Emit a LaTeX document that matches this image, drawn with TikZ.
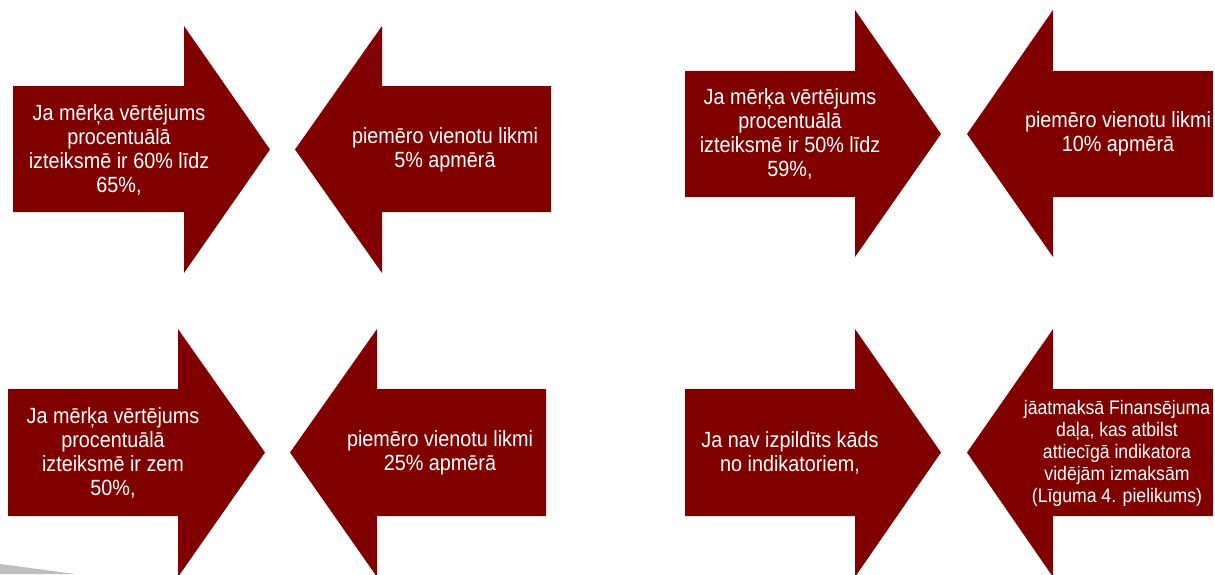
\documentclass[tikz,border=0pt]{standalone}
\usepackage{fontspec}
\setmainfont{Liberation Sans}[FakeStretch=0.9]
\definecolor{maroon}{RGB}{128,0,0}
\definecolor{wedgegrey}{RGB}{190,190,190}
\tikzset{
  arrowshape/.style={fill=maroon,draw=none},
  arrowtext/.style={text=white,align=center,inner sep=0pt,font=\fontsize{22}{24}\selectfont},
  smalltext/.style={text=white,align=center,inner sep=0pt,font=\fontsize{19.6}{22}\selectfont}
}
\begin{document}
\begin{tikzpicture}[x=1pt,y=-1pt]
\useasboundingbox (0,0) rectangle (1215,574);
\clip (0,0) rectangle (1215,574);
% grey wedge
\fill[wedgegrey] (0,564) -- (75,574) -- (0,574) -- cycle;
% pair A
\fill[arrowshape] (13,86) -- (184,86) -- (184,26) -- (270,149.5) -- (184,273) -- (184,212) -- (13,212) -- cycle;
\fill[arrowshape] (551,86) -- (382,86) -- (382,26) -- (295,149.5) -- (382,273) -- (382,212) -- (551,212) -- cycle;
\node[arrowtext] (ar) at (119,149.5) {Ja mērķa vērtējums\\procentuālā\\izteiksmē ir 60\% līdz\\65\%,};
\node[arrowtext] (al) at (445,149.5) {piemēro vienotu likmi\\5\% apmērā};
% pair B
\fill[arrowshape] (685,71) -- (855,71) -- (855,10) -- (941,134) -- (855,257) -- (855,197) -- (685,197) -- cycle;
\fill[arrowshape] (1213,71) -- (1053,71) -- (1053,10) -- (967,134) -- (1053,257) -- (1053,197) -- (1213,197) -- cycle;
\node[arrowtext] (br) at (790,134) {Ja mērķa vērtējums\\procentuālā\\izteiksmē ir 50\% līdz\\59\%,};
\node[arrowtext] (bl) at (1118,134) {piemēro vienotu likmi\\10\% apmērā};
% pair C
\fill[arrowshape] (8,389) -- (178,389) -- (178,329) -- (265,452.5) -- (178,577) -- (178,516) -- (8,516) -- cycle;
\fill[arrowshape] (546,389) -- (377,389) -- (377,329) -- (290,452.5) -- (377,577) -- (377,516) -- (546,516) -- cycle;
\node[arrowtext] (cr) at (113,452.5) {Ja mērķa vērtējums\\procentuālā\\izteiksmē ir zem\\50\%,};
\node[arrowtext] (cl) at (440,452.5) {piemēro vienotu likmi\\25\% apmērā};
% pair D
\fill[arrowshape] (685,389) -- (855,389) -- (855,329) -- (941,452.5) -- (855,577) -- (855,516) -- (685,516) -- cycle;
\fill[arrowshape] (1213,389) -- (1053,389) -- (1053,329) -- (967,452.5) -- (1053,577) -- (1053,516) -- (1213,516) -- cycle;
\node[arrowtext] (dr) at (790,452.5) {Ja nav izpildīts kāds\\no indikatoriem,};
\node[smalltext] (dl) at (1117,453) {jāatmaksā Finansējuma\\daļa, kas atbilst\\attiecīgā indikatora\\vidējām izmaksām\\(Līguma 4. pielikums)};
\end{tikzpicture}
\end{document}
